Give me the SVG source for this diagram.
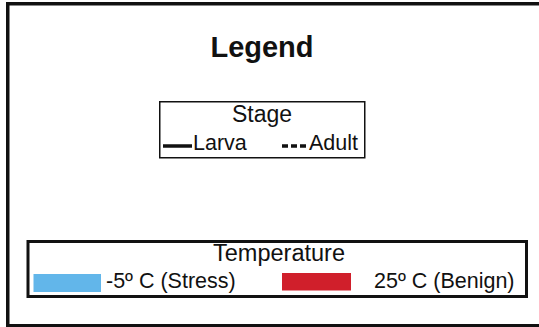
<svg xmlns="http://www.w3.org/2000/svg" width="539" height="327" viewBox="0 0 539 327">
<style>
text{font-family:"Liberation Sans",Arial,sans-serif;fill:#111}
.lbl{font-size:21.5px}
.frame{fill:none;stroke:#111}
</style>
<rect x="0" y="0" width="539" height="327" fill="#fff"/>
<rect class="frame" x="7.75" y="3.75" width="540" height="322" stroke-width="3.5"/>
<g id="title"><text x="262" y="57" font-size="29" font-weight="bold" text-anchor="middle">Legend</text></g>
<g id="stage">
<rect class="frame" x="159.75" y="101.75" width="205" height="56" stroke-width="1.5"/>
<text x="262" y="122" font-size="23" text-anchor="middle">Stage</text>
<line x1="163" y1="146" x2="192" y2="146" stroke="#111" stroke-width="3.5"/>
<text class="lbl" x="193" y="150">Larva</text>
<line x1="282" y1="146" x2="308" y2="146" stroke="#111" stroke-width="3.5" stroke-dasharray="6 3"/>
<text class="lbl" x="309" y="150">Adult</text>
</g>
<g id="temperature">
<rect class="frame" x="28" y="241.5" width="498.5" height="55" stroke-width="3"/>
<text x="279" y="261" font-size="23.5" text-anchor="middle">Temperature</text>
<rect x="33.5" y="274" width="67.5" height="18" fill="#62b6ea"/>
<text class="lbl" x="106" y="288">-5º C (Stress)</text>
<rect x="282" y="273" width="69" height="17.5" fill="#d01f2b"/>
<text class="lbl" x="374" y="288">25º C (Benign)</text>
</g>
</svg>
